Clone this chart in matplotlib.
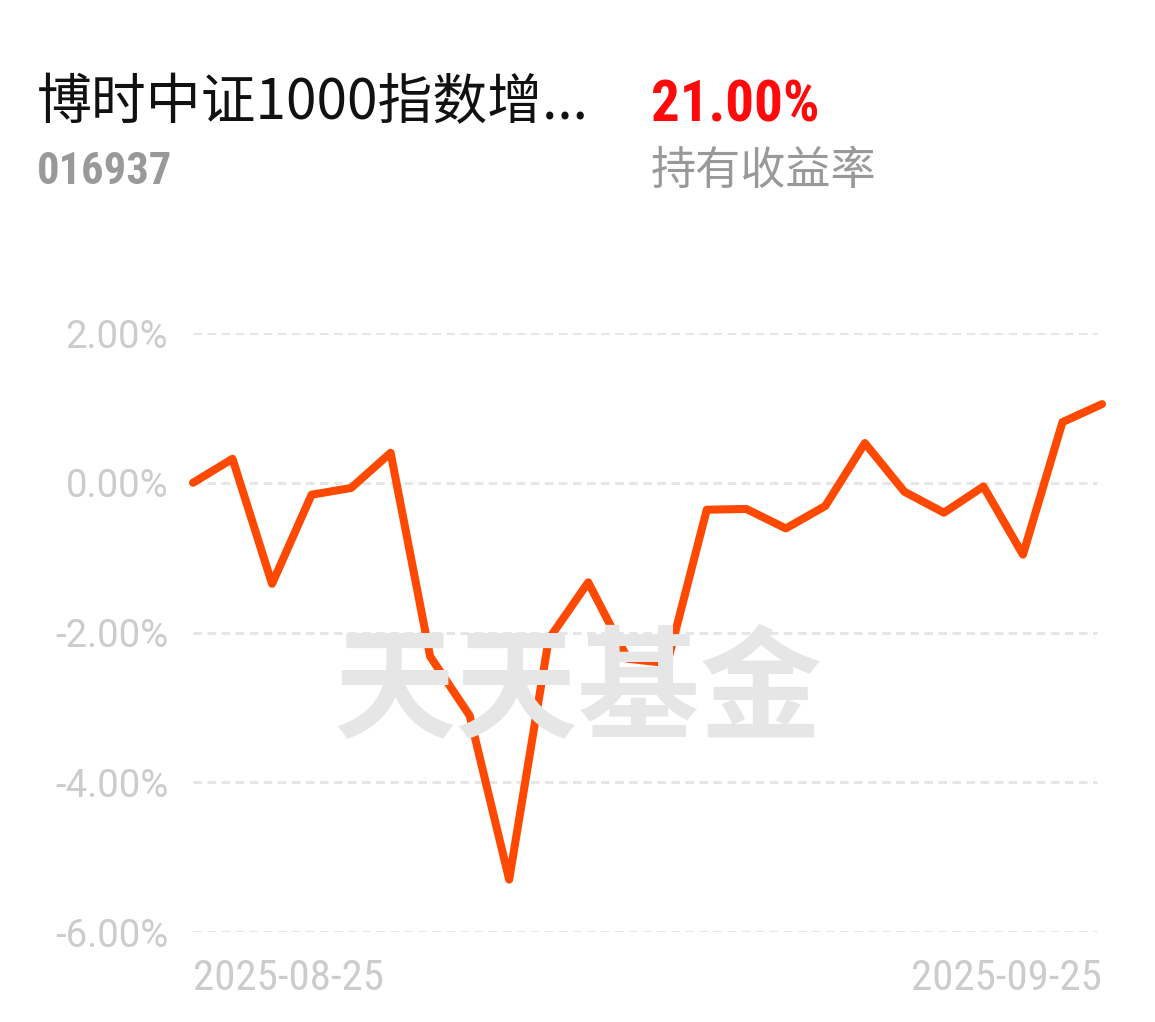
import matplotlib
matplotlib.use("Agg")
import matplotlib.pyplot as plt

plt.rcParams['font.family'] = ['Noto Sans CJK SC', 'DejaVu Sans']

# fund header
fund_name = "博时中证1000指数增..."
fund_code = "016937"
hold_return = "21.00%"
return_label = "持有收益率"

# daily return series (%), 2025-08-25 .. 2025-09-25
returns = [0.00, 0.32, -1.35, -0.16, -0.07, 0.40, -2.32, -3.11, -5.30, -2.09,
           -1.33, -2.35, -2.41, -0.36, -0.35, -0.61, -0.31, 0.53, -0.12, -0.40,
           -0.05, -0.96, 0.81, 1.05]
start_label = "2025-08-25"
end_label = "2025-09-25"
y_ticks = [2, 0, -2, -4, -6]

narrow = ["Roboto Condensed", "Barlow Semi Condensed", "DejaVu Sans"]

W, H = 1155, 1022
fig = plt.figure(figsize=(W / 100, H / 100), dpi=100)

def fx(px):
    return px / W

def fy(py):
    return 1 - py / H

ax = fig.add_axes([fx(193), fy(932), fx(1102) - fx(193), fy(333) - fy(932)])

x = list(range(len(returns)))
ax.plot(x, returns, color="#ff4800", lw=5.8, solid_joinstyle="round",
        solid_capstyle="round", clip_on=False, zorder=3)
ax.set_xlim(0, len(returns) - 1)
ax.set_ylim(-6, 2)

for t in y_ticks:
    ax.axhline(t, color="#e6e6e6", lw=2.2, ls=(0, (2.8, 1.8)), zorder=1,
               xmax=0.995)

ax.set_yticks(y_ticks)
ax.set_yticklabels([f"{t:.2f}%" for t in y_ticks])
ax.tick_params(axis="y", length=0, pad=18, labelsize=27.5, labelcolor="#cccccc")
for lab in ax.get_yticklabels():
    lab.set_family(["Roboto", "DejaVu Sans"])
ax.set_xticks([])
for s in ax.spines.values():
    s.set_visible(False)

ax.text(0, -0.077, start_label, transform=ax.transAxes, ha="left", va="center",
        fontsize=31, color="#cccccc", family=narrow)
ax.text(1, -0.077, end_label, transform=ax.transAxes, ha="right", va="center",
        fontsize=31, color="#cccccc", family=narrow)

# watermark
fig.text(fx(578), fy(693), "天天基金", ha="center", va="center", fontsize=88,
         fontweight="bold", color="#e6e6e6", zorder=0)

# header texts
fig.text(fx(37), fy(119), fund_name, fontsize=39.5, color="#111111", va="baseline")
fig.text(fx(37), fy(184), fund_code, fontsize=32, color="#999999", va="baseline",
         fontweight="bold", family=narrow)
fig.text(fx(651), fy(121), hold_return, fontsize=41, color="#ff0a0a", va="baseline",
         fontweight="bold", family=narrow)
fig.text(fx(651), fy(184), return_label, fontsize=32.5, color="#999999", va="baseline")

fig.savefig("out.png", dpi=100, facecolor="white")
